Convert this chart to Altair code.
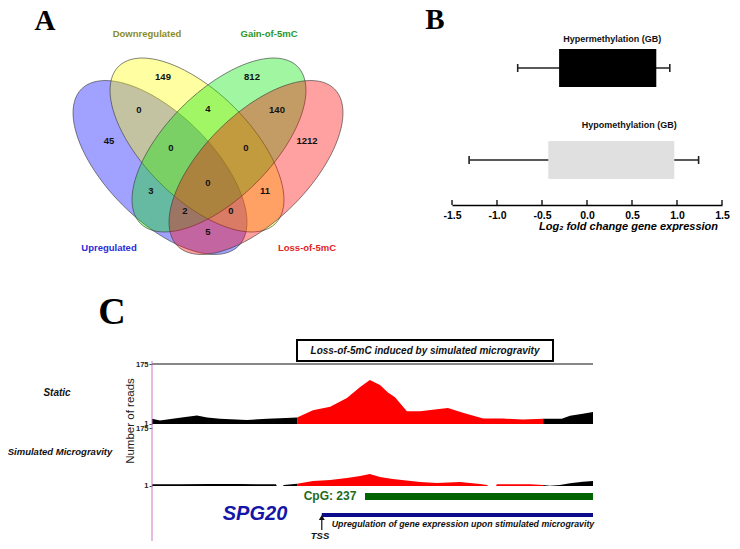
import altair as alt
import numpy as np
import pandas as pd

FONT = "Liberation Sans"
SERIF = "Liberation Serif"
W, H = 724, 533

# ---------------- Panel A: 4-set Venn diagram ----------------
venn_sets = ["Upregulated", "Downregulated", "Gain-of-5mC", "Loss-of-5mC"]
venn_fill = ["#0000ff", "#ffff00", "#00e600", "#ff0000"]
venn_text_color = ["#2b2bd9", "#8c8c26", "#2a962a", "#e02424"]
region_counts = ["149", "812", "0", "4", "140", "45", "0", "0", "1212",
                 "3", "0", "11", "2", "0", "5"]

# layout of the diagram (units = px from the diagram centre)
ell_cx = [-48, -11, 11, 48]
ell_cy = [0.5, -22, -22, 0.5]
ell_angle = [45, 45, 135, 135]
ELL_A, ELL_B = 111, 53
set_label_x = [-99, -61, 61, 99]
set_label_y = [81, -133, -133, 81]
region_x = [-45, 44, -69, 0, 69, -99, -37, 38, 99, -57, 0, 57, -23, 23, 0]
region_y = [-90, -90, -57, -58, -57, -26, -19, -19, -26, 24, 16, 24, 44, 44, 65]

# ---------------- Panel B: box plots ----------------
b_groups = ["Hypermethylation (GB)", "Hypomethylation (GB)"]
b_wlo = [-0.77, -1.31]
b_q1 = [-0.31, -0.43]
b_q3 = [0.77, 0.97]
b_whi = [0.92, 1.24]
b_fill = ["#000000", "#e0e0e0"]
b_ticks = [-1.5, -1.0, -0.5, 0.0, 0.5, 1.0, 1.5]

# ---------------- Panel C: coverage tracks (position = % of window) ----------------
dmr_start, dmr_end = 32.9, 88.7
static_pos = [0.0, 1.8, 6.3, 10.2, 12.5, 15.4, 21.5, 26.1, 29.0, 32.9, 36.5, 40.4, 44.2,
              47.2, 49.4, 51.7, 53.5, 55.1, 57.8, 60.8, 64.6, 67.1, 70.5, 75.1, 79.6,
              84.1, 88.7, 90.7, 92.9, 94.8, 97.7, 100.0]
static_reads = [15, 10, 18, 25, 19, 15, 12, 15, 17, 19, 40, 50, 76,
                108, 128, 114, 92, 78, 37, 37, 43, 47, 33, 16, 16,
                13, 15, 15, 15, 24, 30, 35]
sim_pos = [0.0, 6.3, 13.2, 20.0, 24.9, 28.1, 28.3, 29.7, 29.9, 32.9, 36.5, 40.4, 44.2,
           47.2, 49.4, 51.7, 54.6, 60.8, 64.6, 69.8, 74.4, 76.0, 76.2, 78.0, 78.2,
           85.7, 88.7, 90.2, 92.5, 94.8, 97.7, 100.0]
sim_reads = [5, 5, 6, 6, 5, 5, 0, 0, 3, 7, 15, 18, 24,
             30, 36, 27, 21, 12, 9, 12, 6, 3, 0, 0, 5,
             5, 3, 1, 3, 8, 13, 15]
read_ticks = [1, 175]
cpg_island = (48.3, 100.0)
transcript = (38.5, 100.0)


def seg_frame(pos, reads):
    rows = []
    for p, r in zip(pos, reads):
        if p <= dmr_start:
            rows.append((p, r, "a"))
        if dmr_start <= p <= dmr_end:
            rows.append((p, r, "b"))
        if p >= dmr_end:
            rows.append((p, r, "c"))
    return pd.DataFrame(rows, columns=["pos", "reads", "seg"])


# ---------------- scales ----------------
PX = alt.Scale(domain=[8, 732], range=[0, 724])
PY = alt.Scale(domain=[8, 541], range=[0, 533])
VX = alt.Scale(domain=[-200, 200], range=[0, 400])
VY = alt.Scale(domain=[-159, 159], range=[0, 318])
BX = alt.Scale(domain=[-1.5, 1.5], range=[444, 714], nice=False, zero=False)
BY = alt.Scale(domain=b_groups, range=[13.4, 198.6], paddingInner=0.587, paddingOuter=0.3)
TX = alt.Scale(domain=[0, 100], range=[144, 585], nice=False, zero=False)
TY_STATIC = alt.Scale(domain=[0, 175], range=[416, 356], nice=False)
TY_SIM = alt.Scale(domain=[0, 175], range=[478, 420], nice=False)

# ---------------- Panel A layers ----------------
t = np.linspace(0, 2 * np.pi, 97)[:-1]
ELL_PATH = "M" + " L".join(f"{np.cos(a):.4f},{(ELL_B / ELL_A) * np.sin(a):.4f}" for a in t) + " Z"

ell_df = pd.DataFrame({"set": venn_sets, "cx": ell_cx, "cy": ell_cy,
                       "angle": ell_angle, "idx": range(4)})
ellipses = alt.Chart(ell_df).mark_point(
    shape=ELL_PATH, size=(2 * ELL_A) ** 2, filled=True, opacity=1,
    fillOpacity=0.37, stroke="#3a3a3a", strokeWidth=0.8, strokeOpacity=0.75
).encode(
    x=alt.X("cx:Q", scale=VX, axis=None),
    y=alt.Y("cy:Q", scale=VY, axis=None),
    angle=alt.Angle("angle:Q", scale=None),
    color=alt.Color("set:N", scale=alt.Scale(domain=venn_sets, range=venn_fill), legend=None),
    order=alt.Order("idx:Q"),
)

reg_df = pd.DataFrame({"text": region_counts, "x": region_x, "y": region_y})
venn_counts = alt.Chart(reg_df).mark_text(
    font=FONT, fontWeight="bold", fontSize=9.5, color="#111"
).encode(
    x=alt.X("x:Q", scale=VX, axis=None),
    y=alt.Y("y:Q", scale=VY, axis=None),
    text="text:N",
)

lab_df = pd.DataFrame({"text": venn_sets, "x": set_label_x, "y": set_label_y, "c": venn_text_color})
venn_labels = alt.Chart(lab_df).mark_text(
    font=FONT, fontWeight="bold", fontSize=9.5
).encode(
    x=alt.X("x:Q", scale=VX, axis=None),
    y=alt.Y("y:Q", scale=VY, axis=None),
    text="text:N",
    color=alt.Color("c:N", scale=None, legend=None),
)

# ---------------- Panel B layers ----------------
bdf = pd.DataFrame({"group": b_groups, "wlo": b_wlo, "q1": b_q1, "q3": b_q3, "whi": b_whi})
whiskers = alt.Chart(bdf).mark_rule(color="#222", strokeWidth=1.6).encode(
    x=alt.X("wlo:Q", scale=BX, axis=None), x2="whi:Q",
    y=alt.Y("group:N", scale=BY, axis=None),
)
caps_df = pd.DataFrame({"group": b_groups * 2, "v": b_wlo + b_whi})
caps = alt.Chart(caps_df).mark_tick(color="#222", size=8, thickness=1.6, opacity=1).encode(
    x=alt.X("v:Q", scale=BX, axis=None),
    y=alt.Y("group:N", scale=BY, axis=None),
)
boxes = alt.Chart(bdf).mark_bar(opacity=1).encode(
    x=alt.X("q1:Q", scale=BX, axis=alt.Axis(
        orient="bottom", offset=-336, values=b_ticks, ticks=False, tickSize=0,
        labelExpr="datum.value < 0 ? '-' + format(-datum.value, '.1f') : format(datum.value, '.1f')",
        labelFont=FONT, labelFontWeight="bold", labelFontSize=10.5, labelColor="black",
        labelFlush=False, labelPadding=5,
        domainColor="black", domainWidth=1.3, grid=False,
        title="Log\u2082 fold change gene expression", titleFont=FONT, titleFontSize=11,
        titleFontStyle="italic", titleFontWeight="bold", titleColor="black",
        titleX=620, titleY=21, titleBaseline="middle", titleAlign="center")),
    x2="q3:Q",
    y=alt.Y("group:N", scale=BY, axis=None),
    color=alt.Color("group:N", scale=alt.Scale(domain=b_groups, range=b_fill), legend=None),
)
# inward-pointing tick marks of the B axis
b_tick_marks = alt.Chart(pd.DataFrame({"v": b_ticks, "y": [202.5] * len(b_ticks)})).mark_tick(
    color="black", size=5, thickness=1.3, opacity=1).encode(
    x=alt.X("v:Q", scale=BX, axis=None),
    y=alt.Y("y:Q", scale=PY, axis=None),
)
btitle_df = pd.DataFrame({"text": b_groups, "x": [0.28, 0.47], "y": [38.5, 125]})
b_titles = alt.Chart(btitle_df).mark_text(
    font=FONT, fontWeight="bold", fontSize=9, color="#111"
).encode(
    x=alt.X("x:Q", scale=BX, axis=None),
    y=alt.Y("y:Q", scale=PY, axis=None),
    text="text:N",
)

# ---------------- Panel C layers ----------------
seg_colors = alt.Scale(domain=["a", "b", "c"], range=["#000000", "#ff0000", "#000000"])


def track_axis():
    return alt.Axis(orient="left", offset=-144, values=read_ticks, labelFont=FONT,
                    labelFontSize=7.5, labelFontWeight="bold", labelColor="#222",
                    tickSize=3, tickColor="#444", domain=False, grid=False, title=None,
                    labelPadding=1)


static_area = alt.Chart(seg_frame(static_pos, static_reads)).mark_area(interpolate="linear").encode(
    x=alt.X("pos:Q", scale=TX, axis=None),
    y=alt.Y("reads:Q", scale=TY_STATIC, stack=None, axis=track_axis()),
    color=alt.Color("seg:N", scale=seg_colors, legend=None),
)
sim_area = alt.Chart(seg_frame(sim_pos, sim_reads)).mark_area(interpolate="linear").encode(
    x=alt.X("pos:Q", scale=TX, axis=None),
    y=alt.Y("reads:Q", scale=TY_SIM, stack=None, axis=track_axis()),
    color=alt.Color("seg:N", scale=seg_colors, legend=None),
)

# frame lines of the browser view
hline = alt.Chart(pd.DataFrame({"x": [0], "x2": [100], "y": [175]})).mark_rule(
    color="#111", strokeWidth=1).encode(
    x=alt.X("x:Q", scale=TX, axis=None), x2="x2:Q",
    y=alt.Y("y:Q", scale=TY_STATIC, axis=None))
pink = alt.Chart(pd.DataFrame({"x": [0], "y": [361], "y2": [541]})).mark_rule(
    color="#cc77cc", strokeWidth=1).encode(
    x=alt.X("x:Q", scale=TX, axis=None),
    y=alt.Y("y:Q", scale=PY, axis=None), y2="y2:Q")

title_box = alt.Chart(pd.DataFrame({"x": [297], "x2": [553], "y": [340], "y2": [361]})).mark_rect(
    fill="white", stroke="black", strokeWidth=2).encode(
    x=alt.X("x:Q", scale=PX, axis=None), x2="x2:Q",
    y=alt.Y("y:Q", scale=PY, axis=None), y2="y2:Q")

feat_df = pd.DataFrame({"start": [cpg_island[0], transcript[0]], "end": [cpg_island[1], transcript[1]],
                        "y": [496.5, 515], "w": [7, 4], "c": ["#006400", "#0c0c8a"]})
features = alt.Chart(feat_df).mark_rule(strokeCap="butt").encode(
    x=alt.X("start:Q", scale=TX, axis=None), x2="end:Q",
    y=alt.Y("y:Q", scale=PY, axis=None),
    strokeWidth=alt.StrokeWidth("w:Q", scale=None, legend=None),
    color=alt.Color("c:N", scale=None, legend=None))

arrow_line = alt.Chart(pd.DataFrame({"x": [transcript[0]], "y": [519], "y2": [530]})).mark_rule(
    color="#111", strokeWidth=1.2).encode(
    x=alt.X("x:Q", scale=TX, axis=None),
    y=alt.Y("y:Q", scale=PY, axis=None), y2="y2:Q")
arrow_head = alt.Chart(pd.DataFrame({"x": [transcript[0]], "y": [517.5]})).mark_point(
    shape="triangle-up", size=35, filled=True, color="#111", opacity=1).encode(
    x=alt.X("x:Q", scale=TX, axis=None),
    y=alt.Y("y:Q", scale=PY, axis=None))


def page_text(rows, font=FONT, weight="bold", style="normal", angle=0, baseline="middle"):
    df = pd.DataFrame(rows, columns=["text", "x", "y", "size", "color"])
    return alt.Chart(df).mark_text(font=font, fontWeight=weight, fontStyle=style,
                                   align="center", baseline=baseline, angle=angle).encode(
        x=alt.X("x:Q", scale=PX, axis=None),
        y=alt.Y("y:Q", scale=PY, axis=None),
        text="text:N",
        size=alt.Size("size:Q", scale=None, legend=None),
        color=alt.Color("color:N", scale=None, legend=None))


letters = page_text([
    ("A", 45, 30, 29, "black"),
    ("B", 435, 29, 29, "black"),
    ("C", 112, 324, 38, "black"),
], font=SERIF, baseline="alphabetic")

italic_texts = page_text([
    ("Loss-of-5mC induced by simulated microgravity", 425, 351, 10, "#111"),
    ("Static", 57, 393, 10, "#111"),
    ("Simulated Microgravity", 60, 452, 9.5, "#111"),
    ("SPG20", 255, 514, 20, "#1515a8"),
    ("TSS", 320, 535.5, 9.5, "#111"),
    ("Upregulation of gene expression upon stimulated microgravity", 463, 524, 8.8, "#111"),
], style="italic")

bold_texts = page_text([
    ("CpG: 237", 330, 496, 12, "#1d6b1d"),
])

reads_title = page_text([
    ("Number of reads", 131, 421, 11.5, "#222"),
], weight="normal", angle=270)

chart = alt.layer(
    ellipses, venn_counts, venn_labels,
    whiskers, boxes, caps, b_tick_marks, b_titles,
    static_area, sim_area, hline, pink, title_box, features, arrow_line, arrow_head,
    letters, italic_texts, bold_texts, reads_title,
).resolve_scale(
    x="independent", y="independent", color="independent", size="independent",
    angle="independent", strokeWidth="independent",
).properties(
    width=W, height=H, autosize=alt.AutoSizeParams(type="none"), padding=0,
    background="white",
).configure_view(stroke=None)

chart.save("out.html", embed_options={"renderer": "svg", "actions": False})
